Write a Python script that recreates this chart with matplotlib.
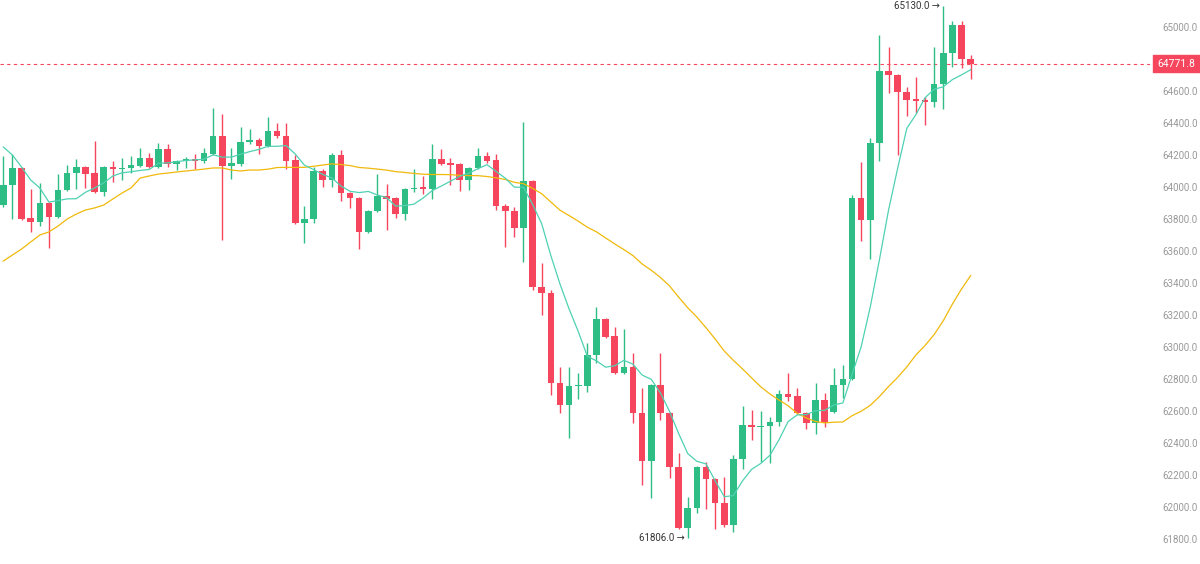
import matplotlib.pyplot as plt
import matplotlib.transforms as mtransforms
from matplotlib.patches import Rectangle
import numpy as np
import pandas as pd

# OHLC, one entry per candle
opens = [63888, 64012, 64119, 63806, 63781, 63900, 63812, 63981, 64088, 64125,
         64088, 63969, 64125, 64112, 64119, 64131, 64181, 64125, 64237, 64144,
         64162, 64175, 64162, 64206, 64319, 64131, 64144, 64281, 64294, 64256,
         64350, 64319, 64169, 63775, 63800, 64100, 64044, 64200, 63962, 63931,
         63719, 63850, 63944, 63931, 63831, 63987, 64000, 63987, 64175, 64150,
         64144, 64044, 64119, 64194, 64169, 63881, 63850, 63744, 64037, 63375,
         63337, 62775, 62637, 62756, 62756, 62950, 63175, 63069, 62837, 62875,
         62587, 62287, 62762, 62587, 62250, 61869, 61994, 62250, 62175, 62025,
         61887, 62300, 62512, 62500, 62506, 62531, 62706, 62694, 62587, 62525,
         62669, 62594, 62762, 62800, 63931, 63794, 64275, 64725, 64700, 64594,
         64550, 64544, 64531, 64644, 64837, 65012, 64800]
highs = [64194, 64206, 64125, 63987, 64025, 63906, 64081, 64137, 64175, 64131,
         64287, 64130, 64162, 64181, 64194, 64244, 64212, 64275, 64269, 64170,
         64190, 64206, 64244, 64494, 64456, 64244, 64375, 64362, 64306, 64437,
         64400, 64400, 64200, 63881, 64125, 64112, 64212, 64231, 63969, 63937,
         63856, 64081, 64019, 63937, 63993, 64112, 64069, 64269, 64237, 64181,
         64150, 64125, 64244, 64219, 64206, 63893, 63875, 64406, 64043, 63525,
         63356, 62875, 62875, 62837, 63025, 63250, 63181, 63125, 63112, 62962,
         62744, 62768, 62962, 62593, 62337, 62062, 62256, 62281, 62181, 62187,
         62325, 62631, 62606, 62600, 62562, 62731, 62837, 62744, 62594, 62775,
         62712, 62869, 62887, 63950, 64156, 64306, 64950, 64875, 64706, 64625,
         64687, 64562, 64875, 65130, 65037, 65037, 64825]
lows = [63875, 63800, 63794, 63719, 63756, 63619, 63806, 63975, 63987, 63994,
        63962, 63944, 64031, 64044, 64087, 64125, 64119, 64119, 64125, 64106,
        64120, 64112, 64150, 64200, 63669, 64050, 64131, 64269, 64206, 64250,
        64306, 64112, 63769, 63650, 63775, 64000, 64000, 63912, 63869, 63612,
        63712, 63844, 63731, 63806, 63794, 63969, 63956, 63925, 64137, 64012,
        63975, 63981, 64112, 64150, 63856, 63625, 63687, 63531, 63356, 63200,
        62700, 62587, 62431, 62675, 62719, 62900, 63056, 62831, 62831, 62525,
        62137, 62056, 62543, 62181, 61862, 61806, 61962, 61990, 61862, 61875,
        61844, 62237, 62419, 62281, 62275, 62506, 62662, 62581, 62487, 62456,
        62500, 62588, 62681, 62794, 63662, 63550, 64162, 64587, 64200, 64444,
        64462, 64387, 64500, 64487, 64750, 64744, 64675]
closes = [64012, 64119, 63800, 63781, 63900, 63812, 63981, 64088, 64125, 64081,
          63969, 64125, 64112, 64119, 64137, 64181, 64125, 64237, 64144, 64162,
          64175, 64162, 64212, 64319, 64131, 64150, 64281, 64294, 64256, 64350,
          64319, 64162, 63775, 63800, 64100, 64044, 64200, 63962, 63931, 63719,
          63850, 63944, 63925, 63831, 63987, 63994, 63987, 64175, 64144, 64137,
          64044, 64119, 64194, 64162, 63881, 63850, 63744, 64037, 63375, 63337,
          62775, 62637, 62756, 62762, 62950, 63175, 63062, 62837, 62875, 62587,
          62287, 62762, 62587, 62250, 61869, 61994, 62250, 62175, 62025, 61887,
          62300, 62512, 62500, 62506, 62531, 62706, 62687, 62587, 62525, 62669,
          62525, 62762, 62800, 63931, 63794, 64275, 64725, 64700, 64594, 64544,
          64537, 64531, 64644, 64837, 65012, 64800, 64771.8]

# moving-average values before enough candles are on screen
ma7_head = [64250, 64200, 64125, 64044, 63994, 63906]
ma30_head = [63537, 63575, 63612, 63656, 63700, 63719, 63756, 63800, 63831, 63856,
             63869, 63887, 63925, 63962, 63994, 64056, 64069, 64081, 64087, 64094,
             64100, 64106, 64112, 64119, 64119, 64106, 64100, 64106, 64106]

yticks = list(range(61800, 65001, 200))
hidden_tick = 64800  # sits under the last-price tag
last_price = 64771.8
high_idx, low_idx = 103, 75

up, down = '#2ebd85', '#f6465d'

o = np.array(opens, float)
h = np.array(highs, float)
l = np.array(lows, float)
c = np.array(closes, float)
x = np.arange(len(c))

ma7 = pd.Series(c).rolling(7).mean()
ma7.iloc[:len(ma7_head)] = ma7_head
ma30 = pd.Series(c).rolling(30).mean()
ma30.iloc[:len(ma30_head)] = ma30_head

fig = plt.figure(figsize=(12, 5.64), dpi=100)
ax = fig.add_axes([0, 0, 1150 / 1200, 1])

colors = np.where(c >= o, up, down)
ax.vlines(x, l, h, colors=colors, lw=1, zorder=2)
body = np.maximum(np.abs(c - o), 7)
ax.bar(x, body, bottom=np.minimum(o, c), width=0.72, color=colors, zorder=3)

ax.plot(x, ma30, color='#f0b90b', lw=0.9, zorder=4)
ax.plot(x, ma7, color='#4fd1b2', lw=0.9, zorder=4)

ax.axhline(last_price, color=down, lw=0.8, ls=(0, (3, 3)), zorder=1)

ax.text(high_idx - 0.38, h[high_idx], '%.1f →' % h[high_idx], ha='right', va='center',
        fontsize=7, color='#333333', family=['Roboto', 'DejaVu Sans'])
ax.text(low_idx - 0.38, l[low_idx], '%.1f →' % l[low_idx], ha='right', va='center',
        fontsize=7, color='#333333', family=['Roboto', 'DejaVu Sans'])

ax.set_xlim(-0.36, 125.65)
ax.set_ylim(61643.75, 65168.75)
ax.set_xticks([])
ax.yaxis.tick_right()
ax.set_yticks(yticks)
ax.set_yticklabels(['' if t == hidden_tick else '%.1f' % t for t in yticks], family='Roboto')
ax.tick_params(axis='y', length=0, pad=8.6, labelsize=7, labelcolor='#999999')
for s in ax.spines.values():
    s.set_visible(False)

# last price tag on the price scale
trans = mtransforms.blended_transform_factory(fig.transFigure, ax.transData)
fig.patches.append(Rectangle((1153 / 1200, last_price - 56), 47 / 1200, 112,
                             transform=trans, color=down, zorder=5))
fig.text(1176.5 / 1200, last_price, '%.1f' % last_price, transform=trans,
         ha='center', va='center', fontsize=7.5, color='white', family='Roboto', zorder=6)

fig.savefig('out.png', dpi=100)
